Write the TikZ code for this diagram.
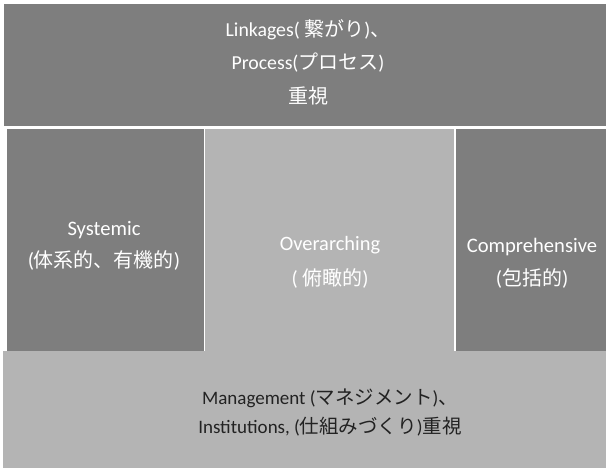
\documentclass[tikz,border=0pt]{standalone}
\usepackage{fontspec}
\setmainfont{Carlito}
\newfontfamily\jp{Noto Sans CJK JP}
\newcommand\J[1]{{\jp\fontsize{20}{20}\selectfont #1}}
\newcommand\Jb[1]{{\jp\fontsize{19.5}{19.5}\selectfont #1}}
\definecolor{darkbox}{HTML}{7E7E7E}
\definecolor{lightbox}{HTML}{B4B4B4}
\definecolor{darktext}{HTML}{222222}
\begin{document}
\begin{tikzpicture}[x=1pt,y=-1pt,
  darkpanel/.style={fill=darkbox,draw=none},
  lightpanel/.style={fill=lightbox,draw=none},
  lbltop/.style={align=center,text=white,font=\fontsize{19.8}{33.5}\selectfont},
  lblside/.style={align=center,text=white,font=\fontsize{20.6}{32.5}\selectfont},
  lblmid/.style={align=center,text=white,font=\fontsize{20.4}{35}\selectfont},
  lbldark/.style={align=center,text=darktext,font=\fontsize{19}{29}\selectfont}]
\useasboundingbox (0,0) rectangle (606,468);
\fill[white] (0,0) rectangle (606,468);
% panels
\path[darkpanel] (4,4) rectangle (606,126);
\path[darkpanel] (7,129) rectangle (204,351);
\path[lightpanel] (205,129) rectangle (454,352);
\path[darkpanel] (456,129) rectangle (606,351);
\path[lightpanel] (3,351) rectangle (606,468);
% labels
\node[lbltop] (top) at (308,62) {Linkages( \J{繋がり}){\J{、}}\\Process(\J{プロセス})\\\J{重視}};
\node[lblside] (left) at (104,246) {Systemic\\(\J{体系的、有機的})};
\node[lblmid] (mid) at (330,262.5) {Overarching\\( \J{俯瞰的})};
\node[lblside] (right) at (532,263.5) {Comprehensive\\(\J{包括的})};
\node[lbldark] (bottom) at (330,412.5) {Management (\Jb{マネジメント})\Jb{、}\\Institutions, (\Jb{仕組みづくり})\Jb{重視}};
\end{tikzpicture}
\end{document}
